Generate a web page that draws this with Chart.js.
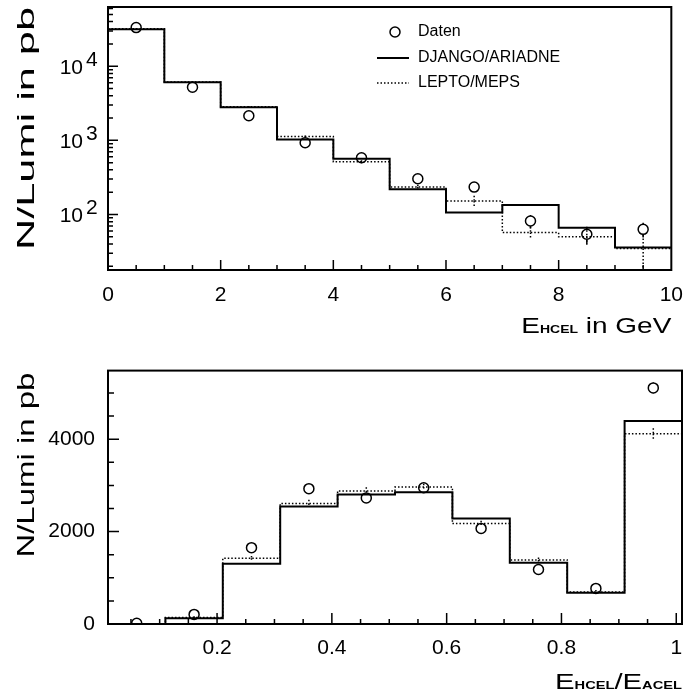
<!DOCTYPE html>
<html>
<head>
<meta charset="utf-8">
<script src="https://cdn.jsdelivr.net/npm/chart.js@4.4.1/dist/chart.umd.min.js"></script>
<style>
  html, body { margin: 0; padding: 0; background: #fff; }
  #wrap { position: relative; width: 696px; height: 699px; }
  .box { position: absolute; left: 0; width: 696px; }
  #top { top: 0; height: 345px; }
  #bot { top: 345px; height: 354px; }
</style>
</head>
<body>
<div id="wrap">
  <div class="box" id="top"><canvas id="ehcel"></canvas></div>
  <div class="box" id="bot"><canvas id="ratio"></canvas></div>
</div>
<script>
// --- E_HCEL in GeV (log scale), 1 GeV bins ---
const ehcelEdges     = [0, 1, 2, 3, 4, 5, 6, 7, 8, 9, 10];
const ehcelDaten     = [33200, 5210, 2150, 929, 582, 303, 234, 81.5, 54, 63];
const ehcelDatenErr  = [300, 80, 50, 30, 25, 20, 25, 17, 14, 14];
const ehcelDjango    = [31500, 6080, 2800, 1030, 565, 218, 106, 134, 66, 35.7];
const ehcelLepto     = [32000, 6150, 2850, 1130, 515, 234, 152, 57, 50, 34.7];
const ehcelLeptoErr  = [250, 90, 60, 35, 25, 18, 27, 11, 11, 18];
const ehcelXTicks    = [0, 2, 4, 6, 8, 10];
const ehcelYDecades  = [100, 1000, 10000];

// --- E_HCEL / E_ACEL, bins of 0.1 ---
const ratioEdges     = [0.01, 0.11, 0.21, 0.31, 0.41, 0.51, 0.61, 0.71, 0.81, 0.91, 1.01];
const ratioDaten     = [15, 208, 1652, 2930, 2729, 2950, 2069, 1180, 771, 5110];
const ratioDatenErr  = [10, 30, 50, 60, 60, 60, 50, 40, 35, 115];
const ratioDjango    = [0, 125, 1304, 2542, 2804, 2854, 2283, 1325, 679, 4396];
const ratioLepto     = [0, 140, 1423, 2610, 2881, 2965, 2173, 1388, 694, 4118];
const ratioLeptoErr  = [10, 30, 50, 80, 80, 70, 60, 50, 40, 120];
const ratioXTicks    = [0.2, 0.4, 0.6, 0.8, 1];
const ratioYTicks    = [0, 2000, 4000];

const FONT = '"Liberation Sans", Arial, Helvetica, sans-serif';
const R = 5; // marker radius

// histogram as stepped line: one point per left edge plus the last right edge
function stepPoints(edges, vals) {
  const pts = vals.map((v, i) => ({ x: edges[i], y: v }));
  pts.push({ x: edges[edges.length - 1], y: vals[vals.length - 1] });
  return pts;
}
function centers(edges) {
  return edges.slice(0, -1).map((e, i) => (e + edges[i + 1]) / 2);
}

function histSets(edges, daten, django, lepto) {
  const c = centers(edges);
  return [
    { label: 'DJANGO/ARIADNE', data: stepPoints(edges, django), stepped: true,
      borderColor: '#000', borderWidth: 2, pointRadius: 0, fill: false },
    { label: 'LEPTO/MEPS', data: stepPoints(edges, lepto), stepped: true,
      borderColor: '#000', borderWidth: 1.5, borderDash: [1.5, 2], pointRadius: 0, fill: false },
    { label: 'Daten', data: daten.map((v, i) => ({ x: c[i], y: v })), showLine: false,
      pointRadius: R, pointBorderWidth: 1.5, pointBorderColor: '#000',
      pointBackgroundColor: 'rgba(0,0,0,0)' }
  ];
}

// text with small bold subscripts, stretched to a given width, right-aligned at (x, y)
function drawRich(ctx, parts, x, y, width, rotated) {
  ctx.save();
  ctx.translate(x, y);
  if (rotated) ctx.rotate(-Math.PI / 2);
  let nat = 0;
  parts.forEach(p => { ctx.font = p.f; nat += ctx.measureText(p.t).width; });
  ctx.scale(width / nat, 1);
  ctx.fillStyle = '#000';
  ctx.textAlign = 'left';
  ctx.textBaseline = 'alphabetic';
  let cx = -nat;
  parts.forEach(p => {
    ctx.font = p.f;
    ctx.fillText(p.t, cx, 0);
    cx += ctx.measureText(p.t).width;
  });
  ctx.restore();
}

const big = '22px ' + FONT;
const sub = 'bold 11px ' + FONT;

function drawFrame(chart) {
  const { ctx, chartArea: a } = chart;
  ctx.save();
  ctx.strokeStyle = '#000';
  ctx.lineWidth = 2;
  ctx.strokeRect(a.left, a.top, a.right - a.left, a.bottom - a.top);
  ctx.restore();
}

// tick marks pointing into the frame
function drawInTicks(chart, axis, values, len) {
  const { ctx, chartArea: a } = chart;
  const s = chart.scales[axis];
  ctx.save();
  ctx.strokeStyle = '#000';
  ctx.lineWidth = 1.5;
  ctx.beginPath();
  values.forEach(v => {
    const p = s.getPixelForValue(v);
    if (axis === 'x') { ctx.moveTo(p, a.bottom); ctx.lineTo(p, a.bottom - len); }
    else { ctx.moveTo(a.left, p); ctx.lineTo(a.left + len, p); }
  });
  ctx.stroke();
  ctx.restore();
}

function drawErrors(chart, xs, ys, errs, dotted, gap) {
  const { ctx, chartArea: a } = chart;
  const sx = chart.scales.x, sy = chart.scales.y;
  ctx.save();
  ctx.beginPath();
  ctx.rect(a.left, a.top, a.right - a.left, a.bottom - a.top);
  ctx.clip();
  ctx.strokeStyle = '#000';
  ctx.lineWidth = 1.5;
  ctx.setLineDash(dotted ? [1.5, 2] : []);
  ctx.beginPath();
  xs.forEach((x, i) => {
    const px = sx.getPixelForValue(x);
    const yc = sy.getPixelForValue(ys[i]);
    const hi = sy.getPixelForValue(ys[i] + errs[i]);
    const loVal = ys[i] - errs[i];
    const lo = loVal > 0 ? sy.getPixelForValue(loVal) : a.bottom + 5;
    if (hi < yc - gap) { ctx.moveTo(px, hi); ctx.lineTo(px, yc - gap); }
    if (lo > yc + gap) { ctx.moveTo(px, yc + gap); ctx.lineTo(px, lo); }
  });
  ctx.stroke();
  ctx.restore();
}

// ---------------- upper chart ----------------
const ehcelMinorX = [], ehcelMinorY = [];
for (let v = 0.5; v < 10; v += 0.5) if (v % 2 !== 0) ehcelMinorX.push(v);
[10, 100, 1000, 10000].forEach(d => { for (let k = 2; k <= 9; k++) ehcelMinorY.push(k * d); });

const ehcelPlugin = {
  id: 'ehcelDeco',
  afterDatasetsDraw(chart) {
    const c = centers(ehcelEdges);
    drawErrors(chart, c, ehcelLepto, ehcelLeptoErr, true, 0);
    drawErrors(chart, c, ehcelDaten, ehcelDatenErr, false, R);
  },
  afterDraw(chart) {
    const { ctx, chartArea: a } = chart;
    drawFrame(chart);
    drawInTicks(chart, 'x', ehcelMinorX, 5);
    drawInTicks(chart, 'x', [2, 4, 6, 8], 10);
    drawInTicks(chart, 'y', ehcelMinorY.filter(v => v > 17.8 && v < 63000), 5);
    drawInTicks(chart, 'y', ehcelYDecades, 10);

    // 10^n labels
    ctx.save();
    ctx.fillStyle = '#000';
    ctx.font = '21px ' + FONT;
    ehcelYDecades.forEach(v => {
      const y = chart.scales.y.getPixelForValue(v);
      ctx.textAlign = 'right';
      ctx.fillText('10', 83, y + 8);
      ctx.textAlign = 'left';
      ctx.fillText(String(Math.round(Math.log10(v))), 86, y);
    });

    // legend
    ctx.lineWidth = 1.5;
    ctx.strokeStyle = '#000';
    ctx.beginPath();
    ctx.arc(395, 32, R, 0, Math.PI * 2);
    ctx.stroke();
    ctx.lineWidth = 2;
    ctx.beginPath(); ctx.moveTo(377, 58); ctx.lineTo(409, 58); ctx.stroke();
    ctx.lineWidth = 1.5;
    ctx.setLineDash([1.5, 2]);
    ctx.beginPath(); ctx.moveTo(377, 83); ctx.lineTo(409, 83); ctx.stroke();
    ctx.setLineDash([]);
    ctx.font = '16px ' + FONT;
    ctx.textAlign = 'left';
    ctx.textBaseline = 'middle';
    ctx.fillText('Daten', 418, 32);
    ctx.fillText('DJANGO/ARIADNE', 418, 58);
    ctx.fillText('LEPTO/MEPS', 418, 83);
    ctx.restore();

    drawRich(ctx, [{ t: 'N/Lumi in pb', f: '24px ' + FONT }], 34, a.top, 243, true);
    drawRich(ctx, [{ t: 'E', f: big }, { t: 'HCEL', f: sub }, { t: ' in GeV', f: big }],
      a.right, 333, 150, false);
  }
};

new Chart(document.getElementById('ehcel'), {
  type: 'line',
  data: { datasets: histSets(ehcelEdges, ehcelDaten, ehcelDjango, ehcelLepto) },
  options: {
    responsive: true, maintainAspectRatio: false, animation: false,
    layout: { padding: { top: 7, right: 14, left: 0, bottom: 0 } },
    plugins: { legend: { display: false }, tooltip: { enabled: false } },
    scales: {
      x: {
        type: 'linear', min: 0, max: 10,
        grid: { display: false, drawTicks: false }, border: { display: false },
        afterBuildTicks: s => { s.ticks = ehcelXTicks.map(v => ({ value: v })); },
        afterFit: s => { s.height = 75; },
        ticks: { padding: 13, color: '#000', font: { family: FONT, size: 21 },
                 maxRotation: 0, callback: v => String(v) }
      },
      y: {
        type: 'logarithmic', min: 17.8, max: 63000,
        grid: { display: false, drawTicks: false }, border: { display: false },
        afterFit: s => { s.width = 108; },
        ticks: { display: false }
      }
    }
  },
  plugins: [ehcelPlugin]
});

// ---------------- lower chart ----------------
const ratioMinorX = [], ratioMinorY = [];
for (let k = 1; k <= 20; k++) if (k % 4 !== 0) ratioMinorX.push(k * 0.05);
for (let v = 500; v < 5500; v += 500) if (v % 2000 !== 0) ratioMinorY.push(v);

const ratioPlugin = {
  id: 'ratioDeco',
  afterDatasetsDraw(chart) {
    const c = centers(ratioEdges);
    drawErrors(chart, c, ratioLepto, ratioLeptoErr, true, 0);
    drawErrors(chart, c, ratioDaten, ratioDatenErr, false, R);
  },
  afterDraw(chart) {
    const { ctx, chartArea: a } = chart;
    drawFrame(chart);
    drawInTicks(chart, 'x', ratioMinorX, 5);
    drawInTicks(chart, 'x', [0.2, 0.4, 0.6, 0.8, 1], 11);
    drawInTicks(chart, 'y', ratioMinorY, 6);
    drawInTicks(chart, 'y', [2000, 4000], 11);

    drawRich(ctx, [{ t: 'N/Lumi in pb', f: '24px ' + FONT }], 34, a.top + 2, 185, true);
    drawRich(ctx, [{ t: 'E', f: big }, { t: 'HCEL', f: sub }, { t: '/E', f: big }, { t: 'ACEL', f: sub }],
      a.right, 344, 127, false);
  }
};

new Chart(document.getElementById('ratio'), {
  type: 'line',
  data: { datasets: histSets(ratioEdges, ratioDaten, ratioDjango, ratioLepto) },
  options: {
    responsive: true, maintainAspectRatio: false, animation: false,
    layout: { padding: { top: 16, right: 14, left: 0, bottom: 0 } },
    plugins: { legend: { display: false }, tooltip: { enabled: false } },
    scales: {
      x: {
        type: 'linear', min: 0.01, max: 1.01,
        grid: { display: false, drawTicks: false }, border: { display: false },
        afterBuildTicks: s => { s.ticks = ratioXTicks.map(v => ({ value: v })); },
        afterFit: s => { s.height = 75; },
        ticks: { padding: 12, color: '#000', font: { family: FONT, size: 21 },
                 maxRotation: 0, callback: v => (v === 1 ? '1' : v.toFixed(1)) }
      },
      y: {
        type: 'linear', min: 0, max: 5485,
        grid: { display: false, drawTicks: false }, border: { display: false },
        afterBuildTicks: s => { s.ticks = ratioYTicks.map(v => ({ value: v })); },
        afterFit: s => { s.width = 108; },
        ticks: { padding: 13, color: '#000', font: { family: FONT, size: 21 },
                 callback: v => String(v) }
      }
    }
  },
  plugins: [ratioPlugin]
});
</script>
</body>
</html>
